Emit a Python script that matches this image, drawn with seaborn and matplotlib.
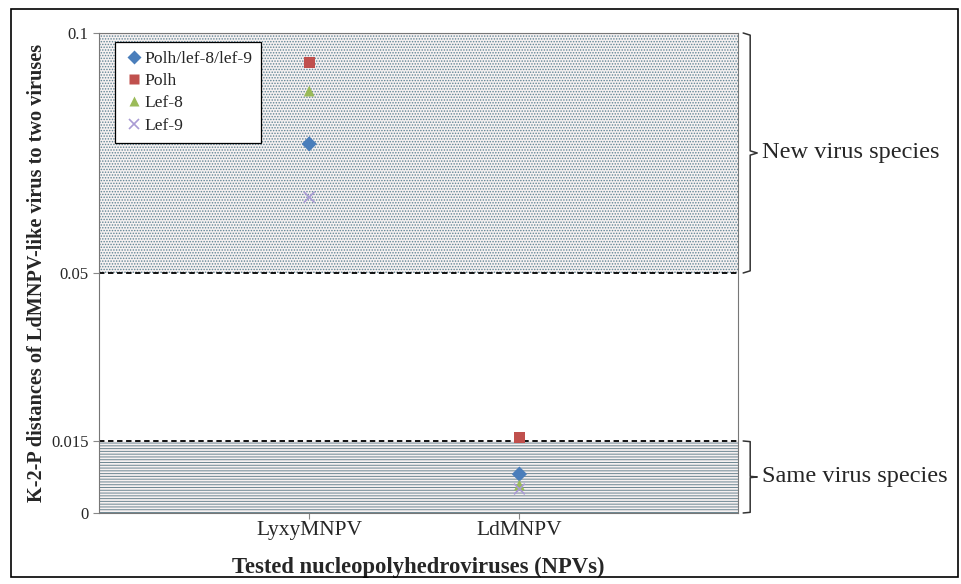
import pandas as pd
import seaborn as sns
import matplotlib.pyplot as plt
from matplotlib.patches import Rectangle
from matplotlib.transforms import blended_transform_factory

# values
viruses = ['LyxyMNPV', 'LdMNPV']
genes = ['Polh/lef-8/lef-9', 'Polh', 'Lef-8', 'Lef-9']
k2p_lyxy = [0.0769, 0.0938, 0.0879, 0.0658]
k2p_ld = [0.0081, 0.0158, 0.0058, 0.0050]
y_ticks = [0, 0.015, 0.05, 0.1]
new_species_band = (0.05, 0.1)
same_species_band = (0, 0.015)

rows = []
for i, g in enumerate(genes):
    rows.append({'Virus': viruses[0], 'pos': 1, 'Gene': g, 'K2P': k2p_lyxy[i]})
    rows.append({'Virus': viruses[1], 'pos': 2, 'Gene': g, 'K2P': k2p_ld[i]})
data = pd.DataFrame(rows)

sns.set_style('white')
plt.rcParams['font.family'] = ['Liberation Serif', 'DejaVu Serif']
plt.rcParams['hatch.linewidth'] = 0.7

fig = plt.figure(figsize=(9.62, 5.84), dpi=100)
ax = fig.add_axes([0.1029, 0.1216, 0.6643, 0.8219])

# shaded zones
ax.axhspan(*new_species_band, facecolor='#f6f1f1', edgecolor='#5f8494', hatch='......', lw=0, zorder=0)
ax.axhspan(*same_species_band, facecolor='#f6f1f1', edgecolor='#6c8692', hatch='------', lw=0, zorder=0)
ax.axhline(new_species_band[0], color='black', ls=(0, (3, 2)), lw=1.3, zorder=1)
ax.axhline(same_species_band[1], color='black', ls=(0, (3, 2)), lw=1.3, zorder=1)

palette = {'Polh/lef-8/lef-9': '#4a7ebb', 'Polh': '#c0504d', 'Lef-8': '#9bbb59', 'Lef-9': '#a99bd4'}
markers = {'Polh/lef-8/lef-9': 'D', 'Polh': 's', 'Lef-8': '^'}
filled = data[data['Gene'] != 'Lef-9']
crosses = data[data['Gene'] == 'Lef-9']
sns.scatterplot(data=filled, x='pos', y='K2P', hue='Gene', style='Gene', hue_order=genes[:3],
                style_order=genes[:3], palette=palette, markers=markers, s=60,
                edgecolor='none', ax=ax, zorder=3)
sns.scatterplot(data=crosses, x='pos', y='K2P', hue='Gene', palette=palette, marker='x',
                s=60, linewidth=1.2, ax=ax, zorder=3)

ax.set_xlim(0, 3.04)
ax.set_ylim(0, 0.1)
ax.set_xticks([1, 2])
ax.set_xticklabels(viruses, fontsize=15.5)
ax.set_yticks(y_ticks)
ax.set_yticklabels(['0', '0.015', '0.05', '0.1'], fontsize=12)
ax.tick_params(axis='both', length=4, width=0.8, color='#888888', direction='out',
               left=True, bottom=True)
ax.tick_params(axis='x', pad=2)
for sp in ax.spines.values():
    sp.set_color('#777777')
    sp.set_linewidth(0.8)

ax.set_xlabel('Tested nucleopolyhedroviruses (NPVs)', fontsize=16.3, fontweight='bold', labelpad=12)
ax.set_ylabel('K-2-P distances of LdMNPV-like virus to two viruses', fontsize=14.6,
              fontweight='bold')
ax.yaxis.set_label_coords(-0.082, 0.5)

handles, labels = ax.get_legend_handles_labels()
leg = ax.legend(handles, labels, loc='upper left', bbox_to_anchor=(0.025, 0.982), frameon=True,
                fontsize=12.6, handletextpad=0.0, borderpad=0.5, labelspacing=0.35,
                markerscale=0.9, fancybox=False, handlelength=1.2, borderaxespad=0)
leg.get_frame().set_edgecolor('black')
leg.get_frame().set_linewidth(0.9)
leg.get_frame().set_facecolor('white')
leg.get_frame().set_alpha(1)


def brace(ax, y0, y1, label):
    tr = blended_transform_factory(ax.transAxes, ax.transData)
    x0, x1, x2 = 1.008, 1.019, 1.03
    h = (y1 - y0) * 0.03
    ym = (y0 + y1) / 2
    xs = [x0, x1, x1, x2, x1, x1, x0]
    ys = [y1, y1 - h * 0.3, ym + h * 0.3, ym, ym - h * 0.3, y0 + h * 0.3, y0]
    ax.plot(xs, ys, color='#333333', lw=1.1, transform=tr, clip_on=False)
    ax.text(1.038, ym, label, transform=tr, fontsize=17.6, va='center', ha='left')


brace(ax, *new_species_band, 'New virus species')
brace(ax, *same_species_band, 'Same virus species')

fig.add_artist(Rectangle((0.011, 0.012), 0.985, 0.972, transform=fig.transFigure,
                         fill=False, edgecolor='black', lw=1.2))

fig.savefig('out.png', dpi=100)
